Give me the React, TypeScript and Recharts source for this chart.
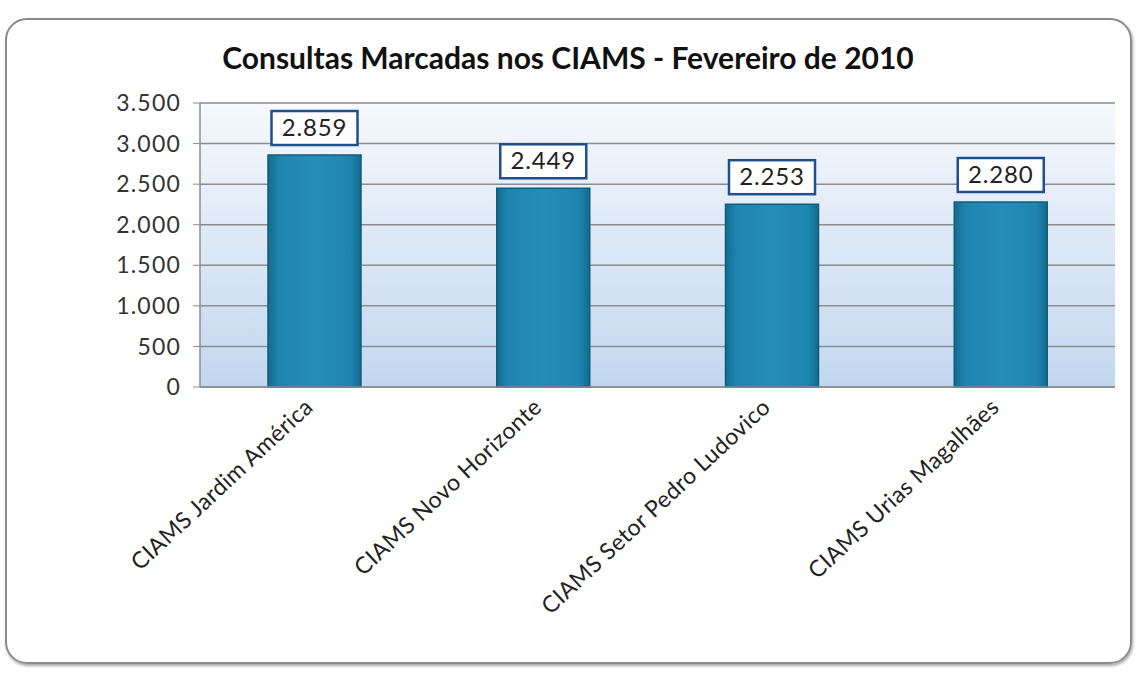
import React from "react";
import { BarChart, Bar, XAxis, YAxis, CartesianGrid, LabelList } from "recharts";

const categories = [
  "CIAMS Jardim América",
  "CIAMS Novo Horizonte",
  "CIAMS Setor Pedro Ludovico",
  "CIAMS Urias Magalhães",
];
const consultas = [2859, 2449, 2253, 2280];
const yTicks = [0, 500, 1000, 1500, 2000, 2500, 3000, 3500];

const FONT = "Lato, 'Open Sans', sans-serif";
const fmt = (v: number) => v.toLocaleString("pt-BR");

const data = categories.map((name, i) => ({ name, value: consultas[i] }));

function RotatedTick({ x, y, payload }: any) {
  return (
    <text
      x={x}
      y={y + 14}
      transform={`rotate(-43, ${x}, ${y + 14})`}
      textAnchor="end"
      fontSize={23}
      letterSpacing={0.4}
      fill="#222"
      fontFamily={FONT}
    >
      {payload.value}
    </text>
  );
}

function BoxLabel({ x, y, width, value }: any) {
  const w = 86;
  const h = 34;
  const cx = x + width / 2;
  const top = y - 10 - h;
  return (
    <g>
      <rect x={cx - w / 2} y={top} width={w} height={h} fill="#fff" stroke="#1f4f8f" strokeWidth={2.5} />
      <text x={cx} y={top + h / 2 + 8} textAnchor="middle" fontSize={24} letterSpacing={0.8} fill="#222" fontFamily={FONT}>
        {fmt(value)}
      </text>
    </g>
  );
}

export default function App() {
  return (
    <div style={{ position: "absolute", left: 0, top: 0, width: 1136, height: 677, background: "#fff", overflow: "hidden" }}>
      <div
        style={{
          position: "absolute",
          left: 5,
          top: 18,
          width: 1123,
          height: 642,
          border: "2px solid #8a8a8a",
          borderRadius: 22,
          boxShadow: "1px 2px 3px rgba(0,0,0,0.35)",
        }}
      />
      <div
        style={{
          position: "absolute",
          left: 0,
          width: 1136,
          top: 38,
          textAlign: "center",
          fontFamily: FONT,
          fontWeight: 700,
          fontSize: 30,
          lineHeight: "38px",
          color: "#111",
        }}
      >
        Consultas Marcadas nos CIAMS - Fevereiro de 2010
      </div>
      <div style={{ position: "absolute", left: 0, top: 0 }}>
        <BarChart width={1136} height={677} data={data} margin={{ top: 103, right: 21, bottom: 0, left: 0 }} barCategoryGap="30%">
          <defs>
            <linearGradient id="plotBg" x1="0" y1="0" x2="0" y2="1">
              <stop offset="0%" stopColor="#f6f9fd" />
              <stop offset="100%" stopColor="#c2d7ef" />
            </linearGradient>
            <linearGradient id="barFill" x1="0" y1="0" x2="1" y2="0">
              <stop offset="0%" stopColor="#136b8f" />
              <stop offset="12%" stopColor="#1e85b0" />
              <stop offset="50%" stopColor="#248eb9" />
              <stop offset="88%" stopColor="#1e85b0" />
              <stop offset="100%" stopColor="#136b8f" />
            </linearGradient>
          </defs>
          <CartesianGrid vertical={false} stroke="#8c8c8c" strokeWidth={1.5} fill="url(#plotBg)" />
          <XAxis
            dataKey="name"
            height={290}
            interval={0}
            tick={<RotatedTick />}
            tickLine={false}
            axisLine={{ stroke: "#8c8c8c", strokeWidth: 1.5 }}
          />
          <YAxis
            width={200}
            domain={[0, 3500]}
            ticks={yTicks}
            tickFormatter={fmt}
            tick={{ fontSize: 23, fill: "#333", fontFamily: FONT, letterSpacing: 1.2 }}
            tickLine={{ stroke: "#8c8c8c" }}
            tickSize={7}
            tickMargin={12}
            axisLine={{ stroke: "#8c8c8c", strokeWidth: 1.5 }}
          />
          <Bar dataKey="value" fill="url(#barFill)" stroke="#105c7c" strokeWidth={1.5} barSize={93} isAnimationActive={false}>
            <LabelList dataKey="value" content={<BoxLabel />} />
          </Bar>
        </BarChart>
      </div>
    </div>
  );
}
